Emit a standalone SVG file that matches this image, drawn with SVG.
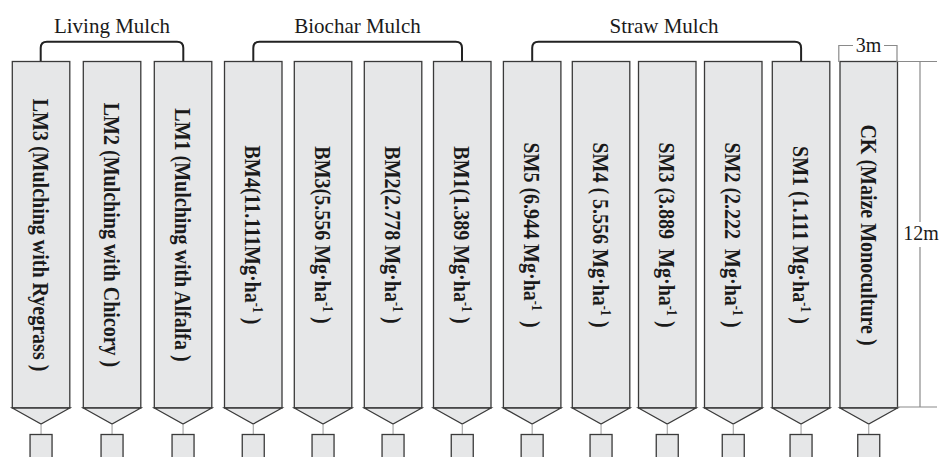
<svg xmlns="http://www.w3.org/2000/svg" width="939" height="457" viewBox="0 0 939 457">
<style>
.plot{fill:#e6e7e8;stroke:#3a3a3a;stroke-width:1.3}
.lbl{font-family:"Liberation Serif","Times New Roman",serif;font-weight:bold;font-size:23px;fill:#1a1a1a;text-anchor:middle;white-space:pre}
.sup{font-size:14px}
.grp{font-family:"Liberation Serif","Times New Roman",serif;font-size:21px;fill:#1a1a1a;text-anchor:middle}
.dim{stroke:#8a8a8a;stroke-width:1.2;fill:none}
.dimt{font-family:"Liberation Serif","Times New Roman",serif;font-size:20px;fill:#1a1a1a;text-anchor:middle}
.brk{stroke:#222;stroke-width:2;fill:none}
.tick{stroke:#9a9a9a;stroke-width:1}
</style>
<defs>
<g id="plotshape">
<rect class="plot" x="0" y="61.5" width="57.5" height="346.5"/>
<polygon class="plot" points="0,408 57.5,408 28.75,424"/>
<line class="tick" x1="28.75" y1="424" x2="28.75" y2="434.5"/>
<rect class="plot" x="17.75" y="434.5" width="22" height="30"/>
</g>
</defs>
<g id="connectors">
<path class="brk" d="M40.7,62 V48 Q40.7,41.7 47,41.7 H177 Q183.3,41.7 183.3,48 V62"/>
<path class="brk" d="M253.3,62 V48 Q253.3,41.7 259.6,41.7 H455.7 Q462,41.7 462,48 V62"/>
<path class="brk" d="M532.2,62 V48 Q532.2,41.7 538.5,41.7 H794.8 Q801.1,41.7 801.1,48 V62"/>
</g>
<g id="group-labels">
<text class="grp" x="112" y="33.3">Living Mulch</text>
<text class="grp" x="357.5" y="33.3">Biochar Mulch</text>
<text class="grp" x="664" y="33.3">Straw Mulch</text>
</g>
<g id="LM3"><use href="#plotshape" x="12.3"/><text class="lbl" transform="translate(41,235) rotate(90) scale(0.87,1)" y="8">LM3 (Mulching with Ryegrass )</text></g>
<g id="LM2"><use href="#plotshape" x="83.3"/><text class="lbl" transform="translate(112,235) rotate(90) scale(0.87,1)" y="8">LM2 (Mulching with Chicory )</text></g>
<g id="LM1"><use href="#plotshape" x="154.3"/><text class="lbl" transform="translate(183,235) rotate(90) scale(0.87,1)" y="8">LM1 (Mulching with Alfalfa )</text></g>
<g id="BM4"><use href="#plotshape" x="224.5"/><text class="lbl" transform="translate(253.3,235) rotate(90) scale(0.87,1)" y="8">BM4(11.111Mg·ha<tspan class="sup" dy="-8">-1</tspan><tspan dy="8"> )</tspan></text></g>
<g id="BM3"><use href="#plotshape" x="294.3"/><text class="lbl" transform="translate(323,235) rotate(90) scale(0.87,1)" y="8">BM3(5.556 Mg·ha<tspan class="sup" dy="-8">-1</tspan><tspan dy="8"> )</tspan></text></g>
<g id="BM2"><use href="#plotshape" x="364.3"/><text class="lbl" transform="translate(393,235) rotate(90) scale(0.87,1)" y="8">BM2(2.778 Mg·ha<tspan class="sup" dy="-8">-1</tspan><tspan dy="8"> )</tspan></text></g>
<g id="BM1"><use href="#plotshape" x="433.5"/><text class="lbl" transform="translate(462.2,235) rotate(90) scale(0.87,1)" y="8">BM1(1.389 Mg·ha<tspan class="sup" dy="-8">-1</tspan><tspan dy="8"> )</tspan></text></g>
<g id="SM5"><use href="#plotshape" x="503.4"/><text class="lbl" transform="translate(532.2,235) rotate(90) scale(0.87,1)" y="8">SM5 (6.944 Mg·ha<tspan class="sup" dy="-8">-1</tspan><tspan dy="8">  )</tspan></text></g>
<g id="SM4"><use href="#plotshape" x="572.3"/><text class="lbl" transform="translate(601,235) rotate(90) scale(0.87,1)" y="8">SM4 ( 5.556 Mg·ha<tspan class="sup" dy="-8">-1</tspan><tspan dy="8"> )</tspan></text></g>
<g id="SM3"><use href="#plotshape" x="638.5"/><text class="lbl" transform="translate(667.3,235) rotate(90) scale(0.87,1)" y="8">SM3 (3.889  Mg·ha<tspan class="sup" dy="-8">-1</tspan><tspan dy="8"> )</tspan></text></g>
<g id="SM2"><use href="#plotshape" x="704.5"/><text class="lbl" transform="translate(733.3,235) rotate(90) scale(0.87,1)" y="8">SM2 (2.222  Mg·ha<tspan class="sup" dy="-8">-1</tspan><tspan dy="8"> )</tspan></text></g>
<g id="SM1"><use href="#plotshape" x="772.3"/><text class="lbl" transform="translate(801.1,235) rotate(90) scale(0.87,1)" y="8">SM1 (1.111 Mg·ha<tspan class="sup" dy="-8">-1</tspan><tspan dy="8"> )</tspan></text></g>
<g id="CK"><use href="#plotshape" x="840"/><text class="lbl" transform="translate(868.8,235) rotate(90) scale(0.87,1)" y="8">CK (Maize Monoculture )</text></g>
<g id="dimensions">
<path class="dim" d="M838.8,62 V45.5 H853 M884,45.5 H897 V62"/>
<text class="dimt" x="868.5" y="51.5">3m</text>
<path class="dim" d="M897.5,61.5 H937 M897.5,407 H937 M920,61.5 V222 M920,247 V407"/>
<text class="dimt" x="921" y="239.5">12m</text>
</g>
</svg>
